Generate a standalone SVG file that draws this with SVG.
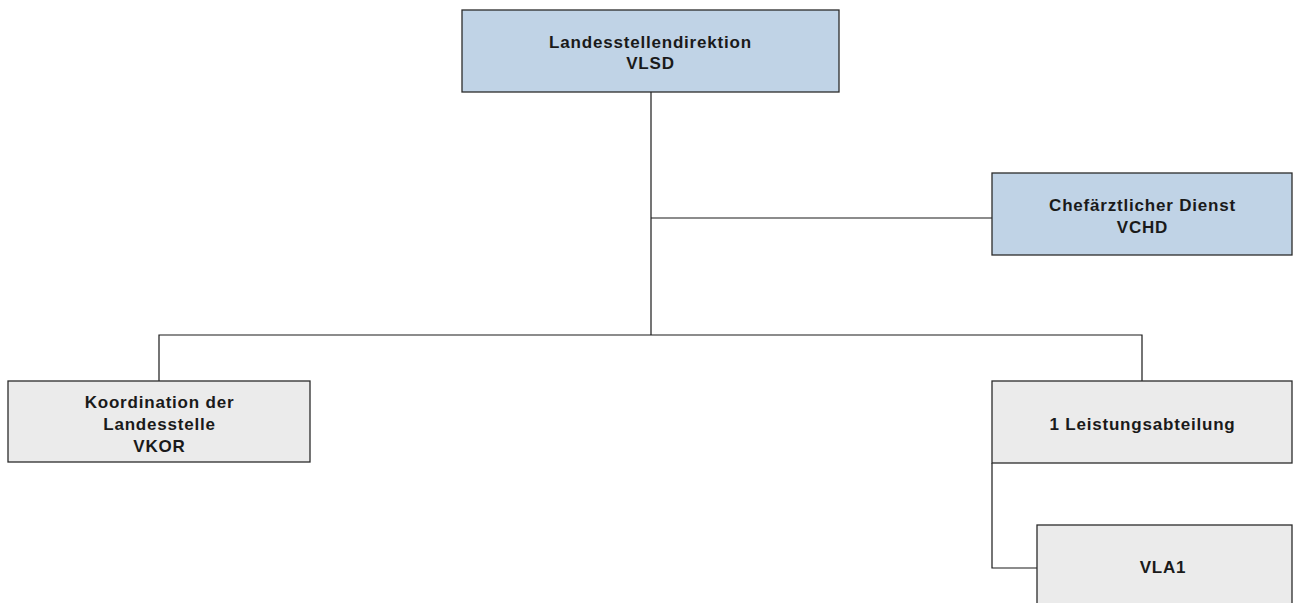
<svg xmlns="http://www.w3.org/2000/svg" width="1296" height="603" viewBox="0 0 1296 603">
<style>
.box{stroke:#2b2b2b;stroke-width:1.3}
.blue{fill:#c0d3e6}
.grey{fill:#ebebeb}
.t{font-family:"Liberation Sans",Arial,sans-serif;font-weight:bold;font-size:17px;letter-spacing:0.8px;fill:#1a1a1a;text-anchor:middle}
.c{fill:none;stroke:#1a1a1a;stroke-width:1.2}
</style>
<rect width="1296" height="603" fill="#ffffff"/>
<g id="connectors">
<path class="c" d="M651 92 V335"/>
<path class="c" d="M651 218 H992"/>
<path class="c" d="M159 381 V335 H1142 V381"/>
<path class="c" d="M992 463 V568 H1037"/>
</g>
<g id="vlsd">
<rect class="box blue" x="462" y="10" width="377" height="82"/>
<text class="t" x="650.5" y="48">Landesstellendirektion</text>
<text class="t" x="650.5" y="68.5">VLSD</text>
</g>
<g id="vchd">
<rect class="box blue" x="992" y="173" width="300" height="82"/>
<text class="t" x="1142.5" y="211">Chefärztlicher Dienst</text>
<text class="t" x="1142.5" y="233">VCHD</text>
</g>
<g id="vkor">
<rect class="box grey" x="8" y="381" width="302" height="81"/>
<text class="t" x="159.5" y="408">Koordination der</text>
<text class="t" x="159.5" y="430">Landesstelle</text>
<text class="t" x="159.5" y="452">VKOR</text>
</g>
<g id="la1">
<rect class="box grey" x="992" y="381" width="300" height="82"/>
<text class="t" x="1142.5" y="430">1 Leistungsabteilung</text>
</g>
<g id="vla1">
<rect class="box grey" x="1037" y="525" width="255" height="85"/>
<text class="t" x="1163" y="573">VLA1</text>
</g>
</svg>
